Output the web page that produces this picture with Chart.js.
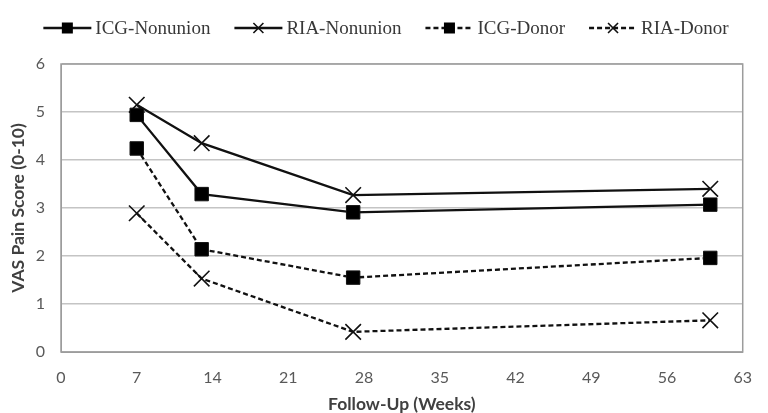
<!DOCTYPE html>
<html>
<head>
<meta charset="utf-8">
<script src="https://cdn.jsdelivr.net/npm/chart.js@4/dist/chart.umd.min.js"></script>
<style>
    body { margin: 0; background: #fff; }
    #wrap { width: 768px; height: 413px; }
</style>
</head>
<body>
<div id="wrap"><canvas id="painChart"></canvas></div>
<script>
// Follow-up weeks (x values)
const weeks = [7, 13, 27, 60];

// VAS pain scores per group
const icgNonunion = [4.94, 3.29, 2.91, 3.07];
const riaNonunion = [5.15, 4.35, 3.27, 3.40];
const icgDonor = [4.24, 2.14, 1.55, 1.96];
const riaDonor = [2.89, 1.53, 0.42, 0.66];

const seriesNames = ['ICG-Nonunion', 'RIA-Nonunion', 'ICG-Donor', 'RIA-Donor'];

// Axis ticks
const xTicks = [0, 7, 14, 21, 28, 35, 42, 49, 56, 63];
const yTicks = [0, 1, 2, 3, 4, 5, 6];

function toPoints(values) {
    return weeks.map((w, i) => ({ x: w, y: values[i] }));
}

function makeSet(name, values, marker, dashed) {
    return {
        label: name,
        data: toPoints(values),
        borderColor: '#111',
        backgroundColor: '#000',
        borderWidth: 2.3,
        borderDash: dashed ? [5, 3] : [],
        pointStyle: marker === 'rect' ? 'rect' : 'crossRot',
        pointRadius: marker === 'rect' ? 9.5 : 11,
        pointBorderWidth: marker === 'rect' ? 1 : 1.6,
        pointBackgroundColor: '#000',
        pointBorderColor: '#111',
        tension: 0,
        marker: marker,
        dashed: dashed
    };
}

// Gray box round the plot area
const plotBorder = {
    id: 'plotBorder',
    afterDraw(chart) {
        const a = chart.chartArea;
        const ctx = chart.ctx;
        ctx.save();
        ctx.strokeStyle = '#9c9c9c';
        ctx.lineWidth = 1.5;
        ctx.strokeRect(a.left, a.top, a.right - a.left, a.bottom - a.top);
        ctx.restore();
    }
};

// Legend across the top: line with marker, then the name
const topLegend = {
    id: 'topLegend',
    afterDraw(chart) {
        const ctx = chart.ctx;
        const iconW = 48, gap = 4, spacing = 24, cy = 28;
        ctx.save();
        ctx.font = '19px "Liberation Serif"';
        const sets = chart.data.datasets;
        const widths = sets.map(ds => ctx.measureText(ds.label).width);
        let total = spacing * (sets.length - 1);
        widths.forEach(w => { total += iconW + gap + w; });
        let x = 386 - total / 2;
        sets.forEach((ds, i) => {
            ctx.strokeStyle = '#111';
            ctx.lineWidth = 2.5;
            ctx.setLineDash(ds.dashed ? [5, 3] : []);
            ctx.beginPath();
            ctx.moveTo(x, cy);
            ctx.lineTo(x + iconW, cy);
            ctx.stroke();
            ctx.setLineDash([]);
            const mx = x + iconW / 2;
            if (ds.marker === 'rect') {
                ctx.fillStyle = '#000';
                ctx.fillRect(mx - 5.5, cy - 5.5, 11, 11);
            } else {
                ctx.lineWidth = 1.6;
                ctx.beginPath();
                ctx.moveTo(mx - 5, cy - 5); ctx.lineTo(mx + 5, cy + 5);
                ctx.moveTo(mx + 5, cy - 5); ctx.lineTo(mx - 5, cy + 5);
                ctx.stroke();
            }
            ctx.fillStyle = '#383838';
            ctx.textBaseline = 'middle';
            ctx.fillText(ds.label, x + iconW + gap, cy + 1);
            x += iconW + gap + widths[i] + spacing;
        });
        ctx.restore();
    }
};

const ctx = document.getElementById('painChart').getContext('2d');
new Chart(ctx, {
    type: 'line',
    data: {
        datasets: [
            makeSet(seriesNames[0], icgNonunion, 'rect', false),
            makeSet(seriesNames[1], riaNonunion, 'cross', false),
            makeSet(seriesNames[2], icgDonor, 'rect', true),
            makeSet(seriesNames[3], riaDonor, 'cross', true)
        ]
    },
    options: {
        responsive: true,
        maintainAspectRatio: false,
        animation: false,
        layout: { padding: { top: 64, right: 11, left: 0, bottom: 0 } },
        plugins: {
            tooltip: { enabled: false },
            legend: { display: false }
        },
        scales: {
            x: {
                type: 'linear',
                min: 0,
                max: 63,
                afterBuildTicks(scale) {
                    scale.ticks = xTicks.map(v => ({ value: v }));
                },
                afterFit(scale) { scale.height = 61; },
                grid: { display: false, drawTicks: false },
                border: { color: '#9c9c9c' },
                ticks: {
                    color: '#595959',
                    padding: 16,
                    font: { family: 'Lato', size: 16 }
                },
                title: {
                    display: true,
                    text: 'Follow-Up (Weeks)',
                    color: '#404040',
                    padding: { top: 0, bottom: -0.5 },
                    font: { family: 'Lato', size: 17.5, weight: 'bold', lineHeight: 1 }
                }
            },
            y: {
                min: 0,
                max: 6,
                afterBuildTicks(scale) {
                    scale.ticks = yTicks.map(v => ({ value: v }));
                },
                afterFit(scale) { scale.width = 61; },
                grid: { color: '#c4c4c4', lineWidth: 1.5, drawTicks: false },
                border: { color: '#9c9c9c' },
                ticks: {
                    color: '#595959',
                    padding: 16,
                    font: { family: 'Lato', size: 16 }
                },
                title: {
                    display: true,
                    text: 'VAS Pain Score (0-10)',
                    color: '#404040',
                    padding: { top: 10, bottom: 0 },
                    font: { family: 'Lato', size: 17.5, weight: 'bold', lineHeight: 1 }
                }
            }
        }
    },
    plugins: [plotBorder, topLegend]
});
</script>
</body>
</html>
